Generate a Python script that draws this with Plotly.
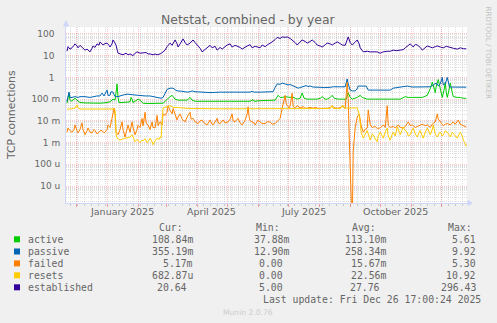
import plotly.graph_objects as go
import pandas as pd

# ---------------- data (day offsets since 2024-11-21) ----------------
active_days = [1,2,3,4,5,7,9,11,14,19,24,29,34,39,41,44,47,49,50,51,52,53,56,61,64,65,66,67,70,72,
               74,77,82,87,92,97,99,101,104,106,109,112,117,121,124,126,129,134,144,154,164,174,184,187,188,194,204,209,212,214,
               216,219,224,226,229,231,234,236,238,241,246,251,254,256,259,261,264,266,268,272,277,280,282,284,286,289,291,294,296,301,
               306,314,324,329,334,339,342,346,351,356,361,364,366,368,369,370,372,374,376,378,379,380,381,383,384,386,387,391,394,397,400]
active_vals = [0.065,0.12,0.19,0.09,0.08,0.09,0.11,0.09,0.07,0.067,0.065,0.066,0.065,0.068,0.07,0.075,0.1,0.09,0.2,0.5,
               0.12,0.07,0.07,0.07,0.075,0.12,0.1,0.07,0.085,0.1,0.09,0.065,0.063,0.063,0.063,0.065,0.08,0.1,0.13,0.15,
               0.1,0.09,0.09,0.09,0.12,0.09,0.08,0.08,0.08,0.08,0.08,0.08,0.08,0.095,0.08,0.085,0.085,0.09,0.15,0.12,
               0.12,0.13,0.12,0.13,0.11,0.1,0.11,0.19,0.11,0.1,0.1,0.1,0.11,0.13,0.1,0.1,0.12,0.15,0.11,0.1,
               0.1,0.1,0.2,0.12,0.1,0.11,0.12,0.15,0.12,0.1,0.1,0.1,0.1,0.1,0.1,0.13,0.12,0.12,0.12,0.12,
               0.15,0.3,0.6,0.25,0.2,0.4,0.8,0.3,0.12,0.3,0.6,0.2,0.12,0.3,0.55,0.2,0.13,0.12,0.12,0.11,0.109]

passive_days = [1,2,3,4,6,9,12,14,19,24,27,31,34,36,38,40,41,42,44,45,47,49,52,56,61,66,70,74,79,84,
                87,92,95,97,99,101,104,107,109,111,116,121,124,126,129,134,139,144,154,164,174,184,186,188,194,199,204,207,209,211,
                214,216,219,222,224,227,230,232,234,237,240,242,244,247,251,254,258,261,264,267,271,275,279,281,282,284,286,289,291,292,
                296,300,302,306,314,324,327,332,337,341,346,352,359,364,367,370,372,374,376,377,379,381,383,384,389,394,400]
passive_vals = [0.08,0.15,0.21,0.12,0.12,0.13,0.12,0.13,0.13,0.12,0.13,0.14,0.14,0.19,0.14,0.24,0.26,0.15,0.15,0.22,
                0.21,0.13,0.13,0.15,0.17,0.16,0.15,0.15,0.14,0.14,0.13,0.12,0.11,0.12,0.19,0.28,0.32,0.32,0.27,0.24,
                0.23,0.21,0.22,0.24,0.22,0.21,0.21,0.2,0.21,0.21,0.21,0.21,0.23,0.21,0.21,0.21,0.21,0.22,0.35,0.5,
                0.48,0.55,0.5,0.45,0.47,0.4,0.36,0.32,0.34,0.37,0.42,0.38,0.4,0.36,0.37,0.35,0.34,0.34,0.35,0.37,
                0.36,0.37,0.37,0.85,0.5,0.26,0.24,0.24,0.3,0.4,0.4,0.4,0.26,0.26,0.26,0.26,0.32,0.35,0.37,0.4,
                0.36,0.36,0.36,0.37,0.45,0.55,0.4,0.5,1.0,0.45,0.5,1.0,0.4,0.36,0.36,0.36,0.355]

failed_days = [1,2,4,6,8,9,11,12,14,16,17,19,21,22,24,26,28,29,31,32,34,36,38,39,41,42,44,46,47,48,
               49,50,52,54,56,57,59,61,62,64,66,67,69,71,72,74,76,77,79,80,82,84,86,87,89,91,92,94,96,97,
               99,101,102,104,106,107,109,111,112,114,116,119,121,124,125,127,129,132,134,136,138,141,143,144,146,147,149,151,152,154,
               156,157,159,162,164,166,167,169,171,172,174,176,178,179,181,182,183,184,186,188,189,191,192,194,196,199,201,204,206,209,
               211,214,216,217,219,220,221,223,224,226,227,229,231,234,237,239,241,244,247,249,252,254,257,259,261,264,266,268,271,274,
               276,278,279,281,282,283,284,285,286,287,289,291,293,295,297,299,301,302,304,306,309,311,314,317,319,321,322,324,327,329,
               332,334,337,339,342,344,346,349,351,354,356,359,361,364,366,369,371,372,374,376,377,379,381,384,386,387,389,392,394,396,
               398,400]
failed_vals = [0.003,0.0047,0.0035,0.003,0.004,0.0065,0.0035,0.0028,0.004,0.008,
               0.004,0.0023,0.0035,0.0047,0.003,0.0028,0.004,0.0036,0.0025,0.0028,
               0.0035,0.0036,0.0028,0.003,0.004,0.0065,0.005,0.013,0.02,0.039,
               0.02,0.003,0.0023,0.004,0.009,0.004,0.0018,0.004,0.0065,0.003,
               0.009,0.005,0.0023,0.004,0.0065,0.005,0.013,0.006,0.025,0.008,
               0.0065,0.004,0.009,0.005,0.0047,0.018,0.006,0.009,0.0065,0.021,
               0.018,0.025,0.05,0.03,0.021,0.037,0.02,0.011,0.015,0.021,
               0.012,0.009,0.015,0.025,0.012,0.013,0.009,0.0075,0.01,0.011,
               0.008,0.0065,0.009,0.011,0.007,0.0065,0.009,0.013,0.008,0.0075,
               0.01,0.011,0.008,0.009,0.012,0.021,0.01,0.009,0.012,0.013,
               0.008,0.0065,0.009,0.011,0.02,0.045,0.015,0.01,0.009,0.008,
               0.0065,0.009,0.011,0.009,0.0075,0.0075,0.009,0.009,0.007,0.0075,
               0.009,0.013,0.039,0.07,0.15,0.06,0.05,0.04,0.05,0.19,
               0.045,0.04,0.05,0.04,0.045,0.038,0.038,0.042,0.038,0.042,
               0.037,0.038,0.04,0.038,0.038,0.04,0.05,0.04,0.038,0.04,
               0.05,0.04,0.039,0.6,0.1,0.002,0.00002,0.0000025,1e-7,0.0004,
               0.005,0.015,0.02,0.006,0.003,0.004,0.0047,0.032,0.0065,0.005,
               0.0055,0.0045,0.0047,0.0065,0.005,0.05,0.006,0.005,0.0055,0.0048,
               0.0065,0.005,0.0047,0.0055,0.009,0.006,0.0065,0.005,0.0055,0.006,
               0.007,0.006,0.0065,0.005,0.007,0.009,0.021,0.012,0.009,0.0065,
               0.006,0.007,0.0075,0.0065,0.008,0.009,0.007,0.011,0.007,0.0065,
               0.006,0.00517]

resets_days = [1,4,9,11,12,14,24,34,44,48,49,50,51,54,57,61,64,66,68,69,71,74,76,77,79,81,83,84,86,87,
               89,91,93,94,95,96,97,101,104,107,111,114,124,134,144,154,164,174,184,194,204,214,224,234,244,254,264,266,267,274,
               277,278,284,291,293,294,295,297,299,301,303,304,306,307,309,311,312,314,316,317,319,321,322,324,326,327,329,331,333,334,
               336,337,339,341,342,344,346,347,349,351,353,354,356,357,359,361,363,364,366,367,369,371,373,374,376,377,379,381,383,384,
               386,387,389,391,393,394,396,397,399,400]
resets_vals = [0.035,0.035,0.039,0.055,0.04,0.035,0.035,0.035,0.035,0.035,0.03,0.0025,0.0016,0.0013,0.0015,0.0016,0.0018,0.0023,0.0014,0.0011,
               0.0014,0.001,0.0013,0.0012,0.0015,0.001,0.0013,0.0016,0.0011,0.0008,0.0012,0.0016,0.0014,0.0018,0.0016,0.0064,0.039,0.045,0.05,0.042,
               0.04,0.04,0.037,0.036,0.036,0.036,0.036,0.036,0.036,0.036,0.036,0.036,0.037,0.037,0.037,0.037,0.037,0.05,0.037,0.037,
               0.05,0.038,0.038,0.04,0.02,0.0065,0.003,0.0016,0.0025,0.0036,0.0018,0.0013,0.0025,0.0023,0.0015,0.0011,0.002,0.003,0.002,0.0016,
               0.003,0.0047,0.002,0.0013,0.0025,0.003,0.002,0.0053,0.003,0.0023,0.004,0.0053,0.0035,0.003,0.002,0.0023,0.004,0.0047,0.0025,0.0018,
               0.003,0.0036,0.002,0.0016,0.003,0.0047,0.003,0.0023,0.004,0.0065,0.0025,0.0018,0.0028,0.003,0.002,0.0023,0.0035,0.003,0.0022,0.0018,
               0.003,0.0027,0.002,0.0016,0.0025,0.003,0.002,0.0013,0.0009,0.00068]

established_days = [1,2,4,6,8,9,11,12,14,16,18,19,21,24,26,27,29,31,33,34,36,37,39,41,43,44,46,47,49,50,
                    52,54,57,60,62,64,67,69,71,74,77,80,82,84,87,89,91,94,97,99,101,104,106,109,111,112,114,117,119,121,
                    124,127,129,131,134,136,139,141,144,146,149,151,154,156,159,161,164,166,169,171,174,176,179,181,184,186,189,191,194,196,
                    199,201,204,206,209,211,214,216,219,221,224,226,229,231,234,236,239,241,244,246,249,251,254,256,259,261,264,266,269,271,
                    274,276,279,282,284,286,289,291,293,294,297,299,301,304,306,309,311,314,317,321,324,327,330,334,337,339,342,344,347,349,
                    351,354,356,359,361,364,366,369,371,374,377,380,384,387,391,394,397,400]
established_vals = [16,26,20,23,30,35,28,23,30,25,20,18,20,15,22,28,24,35,30,43,
                    34,31,36,38,30,25,35,53,38,30,13,12,11,13,11,12,10,13,15,13,
                    13,14,12,12,11,12,11,12,15,18,26,38,30,53,35,25,35,59,40,31,
                    38,53,40,31,22,15,20,25,30,23,27,18,24,20,26,31,35,25,30,28,
                    24,20,26,28,32,23,27,25,23,31,26,31,36,43,55,69,62,73,70,73,
                    62,53,40,31,42,53,45,38,45,53,40,31,28,25,32,38,35,31,38,43,
                    36,31,30,73,40,31,42,53,35,23,15,16,16,15,15,16,15,13,15,16,
                    16,18,17,18,19,23,30,35,25,33,31,24,18,25,28,25,23,26,28,25,
                    23,27,25,22,20,23,21,20.64]

series_names = ["active", "passive", "failed", "resets", "established"]
series_colors = ["#00CC00", "#0066B3", "#FF8000", "#FFCC00", "#330099"]
cur_vals = ["108.84m", "355.19m", "5.17m", "682.87u", "20.64"]
min_vals = ["37.88m", "12.90m", "0.00", "0.00", "5.00"]
avg_vals = ["113.10m", "258.34m", "15.67m", "22.56m", "27.76"]
max_vals = ["5.61", "9.92", "5.30", "10.92", "296.43"]

y_tick_vals = [1e-5, 1e-4, 1e-3, 1e-2, 1e-1, 1, 10, 100]
y_tick_text = ["10 u", "100 u", "1 m", "10 m", "100 m", "1\u00a0\u00a0", "10\u00a0\u00a0", "100\u00a0\u00a0"]
x_label_dates = ["2025-01-16", "2025-04-15 12:00", "2025-07-16", "2025-10-16"]
x_label_text = ["January 2025", "April 2025", "July 2025", "October 2025"]

title_text = "Netstat, combined - by year"
y_title = "TCP connections"
last_update = "Last update: Fri Dec 26 17:00:24 2025"
munin_ver = "Munin 2.0.76"
rrd_credit = "RRDTOOL / TOBI OETIKER"

BASE = pd.Timestamp("2024-11-21")
X_END = pd.Timestamp("2025-12-26 17:00")

# ---------------- geometry ----------------
W, H = 497, 323
L, R, T, B = 66, 30, 27, 120
PW, PH = W - L - R, H - T - B


def px(x):
    return (x - L) / PW


def py(y):
    return (H - B - y) / PH


def to_dates(days):
    return [BASE + pd.Timedelta(days=d) for d in days]


fig = go.Figure()
all_series = [
    (active_days, active_vals),
    (passive_days, passive_vals),
    (failed_days, failed_vals),
    (resets_days, resets_vals),
    (established_days, established_vals),
]
for (d, v), name, col in zip(all_series, series_names, series_colors):
    assert len(d) == len(v), (name, len(d), len(v))
    fig.add_trace(go.Scatter(x=to_dates(d), y=v, mode="lines", name=name,
                             line=dict(color=col, width=1), hoverinfo="skip"))

FONT = "DejaVu Sans"
MONO = "DejaVu Sans Mono"
TXT = "#666666"
RED_GRID = "rgba(255,0,0,0.22)"
GRAY_GRID = "rgba(140,140,140,0.28)"

month_starts = pd.date_range("2024-12-01", "2025-12-01", freq="MS")
minor_y = [k * 10.0 ** e for e in range(-7, 3) for k in range(2, 10)]

fig.update_layout(
    width=W, height=H,
    margin=dict(l=L, r=R, t=T, b=B, pad=0),
    paper_bgcolor="#F0F0F0", plot_bgcolor="#FFFFFF",
    showlegend=False, hovermode=False,
    xaxis=dict(
        type="date", range=[BASE, X_END],
        tickmode="array", tickvals=list(month_starts), showticklabels=False,
        showgrid=True, gridcolor=RED_GRID, griddash="1px,1px", gridwidth=1,
        ticks="outside", ticklen=3, tickcolor="rgba(255,0,0,0.35)",
        minor=dict(dtick=7 * 86400000, tick0="2024-11-25", showgrid=True,
                   gridcolor=GRAY_GRID, griddash="1px,1px", ticks="outside",
                   ticklen=2, tickcolor="rgba(140,140,140,0.4)"),
        showline=True, linecolor="#CFD6F8", linewidth=1, zeroline=False,
    ),
    yaxis=dict(
        type="log", range=[-5.78, 2.32],
        tickmode="array", tickvals=y_tick_vals, ticktext=y_tick_text,
        tickfont=dict(family=FONT, size=9, color=TXT),
        ticks="", ticklabelstandoff=3,
        showgrid=True, gridcolor=RED_GRID, griddash="1px,1px", gridwidth=1,
        minor=dict(tickmode="array", tickvals=minor_y, showgrid=True,
                   gridcolor=GRAY_GRID, griddash="1px,1px", ticks=""),
        showline=True, linecolor="#CFD6F8", linewidth=1, zeroline=False,
    ),
)

ann = []
ann.append(dict(text=title_text, x=px(248.5), y=py(19.5), xref="paper", yref="paper",
                showarrow=False, xanchor="center", yanchor="middle",
                font=dict(family=FONT, size=12.4, color=TXT)))
ann.append(dict(text=y_title, x=px(11), y=py(115), xref="paper", yref="paper",
                showarrow=False, textangle=-90, xanchor="center", yanchor="middle",
                font=dict(family=FONT, size=10.8, color=TXT)))
ann.append(dict(text=rrd_credit, x=px(488.5), y=py(53), xref="paper", yref="paper",
                showarrow=False, textangle=90, xanchor="center", yanchor="middle",
                font=dict(family=FONT, size=7.2, color="#C4C4C4")))
for dte, txt in zip(x_label_dates, x_label_text):
    ann.append(dict(text=txt, x=dte, y=py(212), xref="x", yref="paper",
                    showarrow=False, xanchor="center", yanchor="middle",
                    font=dict(family=FONT, size=9.5, color=TXT)))

CW = 5.9
MFS = 9.8
mono = dict(family=MONO, size=MFS, color=TXT)
head_y = 227.3
for hx, ht in [(158.3, "Cur:"), (255, "Min:"), (351, "Avg:"), (446.7, "Max:")]:
    ann.append(dict(text=ht, x=px(hx), y=py(head_y), xref="paper", yref="paper",
                    showarrow=False, xanchor="left", yanchor="middle", font=mono, borderpad=0))

row_ys = [239.3, 251.5, 263.4, 275.3, 287.3]
col_ends = [194.0, 290.0, 386.7, 482.6]
for i, name in enumerate(series_names):
    ry = row_ys[i]
    ann.append(dict(text=name, x=px(26.7), y=py(ry), xref="paper", yref="paper",
                    showarrow=False, xanchor="left", yanchor="middle", font=mono, borderpad=0))
    for ce, col in zip(col_ends, [cur_vals, min_vals, avg_vals, max_vals]):
        s = col[i]
        xe = ce if s[-1].isalpha() else ce - CW
        ann.append(dict(text=s, x=px(xe), y=py(ry), xref="paper", yref="paper",
                        showarrow=False, xanchor="right", yanchor="middle", font=mono, borderpad=0))

ann.append(dict(text=last_update, x=px(482.3), y=py(299.3), xref="paper", yref="paper",
                showarrow=False, xanchor="right", yanchor="middle", font=mono, borderpad=0))
ann.append(dict(text=munin_ver, x=px(248), y=py(312), xref="paper", yref="paper",
                showarrow=False, xanchor="center", yanchor="middle",
                font=dict(family=FONT, size=7.6, color="#CCCCCC")))

shapes = []
for i, col in enumerate(series_colors):
    ry = row_ys[i]
    shapes.append(dict(type="rect", xref="paper", yref="paper",
                       x0=px(14), x1=px(20), y0=py(ry + 3), y1=py(ry - 3),
                       fillcolor=col, line=dict(width=0)))
shapes.append(dict(type="path", xref="paper", yref="paper",
                   path=f"M {px(467)},{py(203)} L {px(468)},{py(200)} L {px(473)},{py(203)} L {px(468)},{py(206)} Z",
                   fillcolor="#CFD6F8", line=dict(width=0)))
shapes.append(dict(type="line", xref="paper", yref="paper",
                   x0=px(467), x1=px(469), y0=py(203), y1=py(203), line=dict(color="#CFD6F8", width=1)))
shapes.append(dict(type="path", xref="paper", yref="paper",
                   path=f"M {px(66)},{py(27)} L {px(63)},{py(26)} L {px(66)},{py(20)} L {px(69)},{py(26)} Z",
                   fillcolor="#CFD6F8", line=dict(width=0)))

fig.update_layout(annotations=ann, shapes=shapes)
fig.write_html("out.html")
